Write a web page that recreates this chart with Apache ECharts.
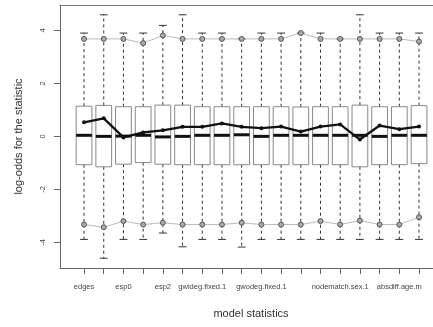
<!DOCTYPE html>
<html>
<head>
<meta charset="utf-8">
<script src="https://cdn.jsdelivr.net/npm/echarts@6/dist/echarts.min.js"></script>
<style>
html,body{margin:0;padding:0;background:#fff;}
#chart{width:433px;height:327px;}
</style>
</head>
<body>
<div id="chart"></div>
<script>
// Box positions (1..18)
const positions = [1,2,3,4,5,6,7,8,9,10,11,12,13,14,15,16,17,18];
// Tick labels shown on the x axis (others suppressed as in the original)
const labelPositions = [1,3,5,7,10,14,17];
const labelNames = ['edges','esp0','esp2','gwideg.fixed.1','gwodeg.fixed.1','nodematch.sex.1','absdiff.age.m'];
// Boxplot statistics of simulated log-odds
const whiskerHigh = [3.9,4.59,3.9,3.9,4.19,4.59,3.9,3.9,3.68,3.9,3.9,3.9,3.9,3.68,4.59,3.9,3.9,3.9];
const q3 = [1.14,1.17,1.12,1.12,1.18,1.18,1.12,1.12,1.12,1.12,1.12,1.11,1.12,1.12,1.18,1.12,1.12,1.16];
const median = [0.04,0.0,0.01,0.04,-0.02,0.0,0.04,0.04,0.06,0.0,0.04,0.04,0.04,0.04,0.04,0.0,0.04,0.04];
const q1 = [-1.07,-1.15,-1.05,-0.99,-1.05,-1.07,-1.07,-1.07,-1.07,-1.07,-1.07,-1.07,-1.07,-1.07,-1.15,-1.07,-1.07,-1.03];
const whiskerLow = [-3.89,-4.6,-3.89,-3.89,-3.65,-4.17,-3.89,-3.89,-4.18,-3.89,-3.89,-3.89,-3.89,-3.89,-3.89,-3.89,-3.89,-3.89];
// Gray bands (upper / lower)
const upperBand = [3.68,3.68,3.68,3.52,3.81,3.68,3.68,3.68,3.68,3.68,3.68,3.9,3.68,3.68,3.68,3.68,3.68,3.58];
const lowerBand = [-3.33,-3.43,-3.2,-3.33,-3.26,-3.33,-3.33,-3.33,-3.26,-3.33,-3.33,-3.33,-3.2,-3.33,-3.18,-3.33,-3.33,-3.05];
// Observed statistic (bold line)
const observed = [0.53,0.68,-0.04,0.15,0.23,0.36,0.36,0.49,0.36,0.31,0.37,0.18,0.37,0.45,-0.12,0.41,0.27,0.37];
const yTicks = [-4,-2,0,2,4];

const FONT = 'Liberation Sans, Arial, sans-serif';
const boxData = positions.map((p,i)=>[p, whiskerLow[i], q1[i], median[i], q3[i], whiskerHigh[i]]);
const pair = arr => positions.map((p,i)=>[p, arr[i]]);

const X_MIN = -0.22, X_MAX = 18.71;
const chart = echarts.init(document.getElementById('chart'), null, {renderer:'canvas'});
chart.setOption({
  animation:false,
  backgroundColor:'#fff',
  grid:{left:60, top:5, right:0, bottom:59, show:false},
  xAxis:[{
    type:'value', min:X_MIN, max:X_MAX,
    name:'model statistics', nameLocation:'middle', nameGap:40,
    nameTextStyle:{fontFamily:FONT, fontSize:11, color:'#333', padding:[0,0,0,9]},
    axisLine:{show:true, onZero:false, lineStyle:{color:'#666', width:1}},
    axisTick:{show:true, customValues:positions, length:6, lineStyle:{color:'#666'}},
    axisLabel:{customValues:labelPositions, margin:15, fontFamily:FONT, fontSize:7.5, color:'#444',
      formatter:v=>{const k=labelPositions.indexOf(Math.round(v)); return k>=0?labelNames[k]:'';}},
    splitLine:{show:false}
  },{
    type:'value', position:'top', min:X_MIN, max:X_MAX,
    axisLine:{show:true, onZero:false, lineStyle:{color:'#777', width:1}},
    axisTick:{show:false}, axisLabel:{show:false}, splitLine:{show:false}
  }],
  yAxis:{
    type:'value', min:-4.97, max:4.96,
    name:'log-odds for the statistic', nameLocation:'middle', nameGap:36,
    nameTextStyle:{fontFamily:FONT, fontSize:11, color:'#333'},
    axisLine:{show:true, onZero:false, lineStyle:{color:'#666', width:1}},
    axisTick:{show:true, customValues:yTicks, length:6, lineStyle:{color:'#666'}},
    axisLabel:{customValues:yTicks, rotate:90, margin:13, fontFamily:FONT, fontSize:7.5, color:'#444'},
    splitLine:{show:false}
  },
  series:[
    {
      type:'custom', data:boxData, encode:{x:0, y:[1,2,3,4,5]}, z:2,
      renderItem:function(params, api){
        const x=api.value(0);
        const w=api.size([0.8,0])[0];
        const pLo=api.coord([x,api.value(1)]), pQ1=api.coord([x,api.value(2)]),
              pMd=api.coord([x,api.value(3)]), pQ3=api.coord([x,api.value(4)]),
              pHi=api.coord([x,api.value(5)]);
        const cx=pMd[0];
        const dash={stroke:'#333', lineWidth:1, lineDash:[3,3]};
        const solid={stroke:'#333', lineWidth:1};
        return {type:'group', children:[
          {type:'line', shape:{x1:cx,y1:pQ3[1],x2:cx,y2:pHi[1]}, style:dash},
          {type:'line', shape:{x1:cx,y1:pQ1[1],x2:cx,y2:pLo[1]}, style:dash},
          {type:'line', shape:{x1:cx-w/4,y1:pHi[1],x2:cx+w/4,y2:pHi[1]}, style:solid},
          {type:'line', shape:{x1:cx-w/4,y1:pLo[1],x2:cx+w/4,y2:pLo[1]}, style:solid},
          {type:'rect', shape:{x:cx-w/2,y:pQ3[1],width:w,height:pQ1[1]-pQ3[1]}, style:{fill:'#fff', stroke:'#888', lineWidth:1}},
          {type:'line', shape:{x1:cx-w/2,y1:pMd[1],x2:cx+w/2,y2:pMd[1]}, style:{stroke:'#111', lineWidth:3}}
        ]};
      }
    },
    {type:'line', data:pair(upperBand), z:3, symbol:'circle', symbolSize:5,
      lineStyle:{color:'#bbb', width:1}, itemStyle:{color:'#aaa', borderColor:'#555', borderWidth:1}},
    {type:'line', data:pair(lowerBand), z:3, symbol:'circle', symbolSize:5,
      lineStyle:{color:'#bbb', width:1}, itemStyle:{color:'#aaa', borderColor:'#555', borderWidth:1}},
    {type:'line', data:pair(observed), z:4, symbol:'circle', symbolSize:4,
      lineStyle:{color:'#111', width:2.3}, itemStyle:{color:'#111'}}
  ]
});
</script>
</body>
</html>
